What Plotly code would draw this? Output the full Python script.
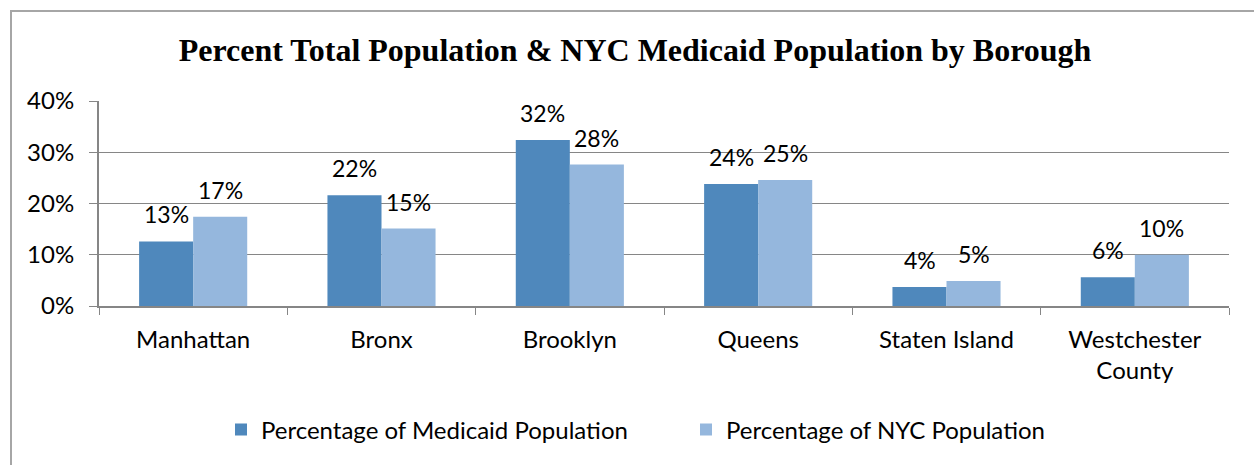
import plotly.graph_objects as go

boroughs = ["Manhattan", "Bronx", "Brooklyn", "Queens", "Staten Island", "Westchester<br>County"]
medicaid_pct = [12.6, 21.6, 32.4, 23.8, 3.7, 5.6]
nyc_pct = [17.4, 15.1, 27.6, 24.6, 4.9, 10.0]
medicaid_labels = ["13%", "22%", "32%", "24%", "4%", "6%"]
nyc_labels = ["17%", "15%", "28%", "25%", "5%", "10%"]
y_ticks = [0, 10, 20, 30, 40]
y_tick_labels = ["0%", "10%", "20%", "30%", "40%"]

C_MED = "#4F88BC"
C_NYC = "#95B7DD"
GRID = "#868686"
FONT = "Lato, 'Open Sans', sans-serif"

fig = go.Figure()
fig.add_trace(go.Bar(x=boroughs, y=medicaid_pct, name="Percentage of Medicaid Population",
                     marker=dict(color=C_MED, line=dict(width=0))))
fig.add_trace(go.Bar(x=boroughs, y=nyc_pct, name="Percentage of NYC Population",
                     marker=dict(color=C_NYC, line=dict(width=0))))

for cat, v, t in zip(boroughs, medicaid_pct, medicaid_labels):
    fig.add_annotation(x=cat, y=v, text=t, xref="x", yref="y", showarrow=False,
                       yanchor="bottom", xshift=-27, yshift=11,
                       font=dict(family=FONT, size=23, color="#000"))
for cat, v, t in zip(boroughs, nyc_pct, nyc_labels):
    fig.add_annotation(x=cat, y=v, text=t, xref="x", yref="y", showarrow=False,
                       yanchor="bottom", xshift=27, yshift=11,
                       font=dict(family=FONT, size=23, color="#000"))

# outer chart border
fig.add_shape(type="rect", xref="paper", yref="paper",
              x0=(11 - 99) / 1130, x1=1.05, y0=-0.9, y1=(306 - 11) / 205,
              line=dict(color="#A6A6A6", width=2), fillcolor="rgba(0,0,0,0)", layer="below")

fig.update_layout(
    width=1254, height=465,
    margin=dict(l=99, r=25, t=101, b=159, autoexpand=False),
    paper_bgcolor="white", plot_bgcolor="white",
    barmode="group", bargap=0.426, bargroupgap=0,
    title=dict(text="<b>Percent Total Population & NYC Medicaid Population by Borough</b>",
               x=635 / 1254, xanchor="center", y=1 - 50 / 465, yanchor="middle",
               font=dict(family="'Liberation Serif', 'Times New Roman', serif", size=32, color="#000")),
    font=dict(family=FONT, size=24, color="#000"),
    showlegend=True,
    legend=dict(orientation="h", x=(221 - 99) / 1130, xanchor="left",
                y=(306 - 430) / 205, yanchor="middle",
                font=dict(family=FONT, size=24, color="#000"),
                itemwidth=30, entrywidth=420, entrywidthmode="pixels",
                traceorder="normal"),
    xaxis=dict(type="category", showline=True, linecolor=GRID, linewidth=2,
               ticks="outside", tickson="boundaries", ticklen=7, tickcolor=GRID,
               tickfont=dict(family=FONT, size=24, color="#000"), showgrid=False,
               ticklabelstandoff=11),
    yaxis=dict(range=[0, 40], tickvals=y_ticks, ticktext=y_tick_labels,
               showline=True, linecolor=GRID, linewidth=2,
               ticks="outside", ticklen=8, tickcolor=GRID,
               showgrid=True, gridcolor=GRID, gridwidth=1, zeroline=False,
               tickfont=dict(family=FONT, size=24, color="#000"), ticklabelstandoff=10),
)

fig.write_html("out.html", config={"displayModeBar": False},
               post_script="document.body.style.margin='0';document.body.style.padding='0';")
